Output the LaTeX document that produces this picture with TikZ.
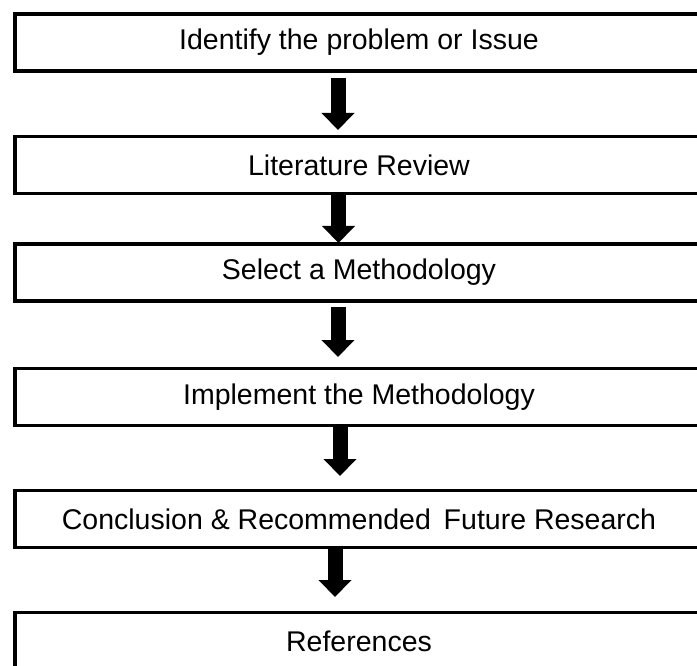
\documentclass[tikz,border=0pt]{standalone}
\usepackage{fontspec}
\setmainfont{Liberation Sans}
\usetikzlibrary{arrows.meta}
\begin{document}
\begin{tikzpicture}[x=1pt,y=-1pt,
  stepbox/.style={draw=black, line width=3.4pt, fill=white, rectangle,
    minimum width=688pt, minimum height=57pt, inner sep=0pt,
    font=\fontsize{28.5}{34}\selectfont},
  blockarrow/.style={draw=black, line width=15pt,
    -{Triangle[width=32pt,length=17pt]}}]
\clip (0,0) rectangle (697,666);
\node[stepbox] (b1) at (359,42.5) {Identify the problem or Issue};
\node[stepbox] (b2) at (359,165) {Literature Review};
\node[stepbox] (b3) at (359,272.5) {Select a Methodology};
\node[stepbox] (b4) at (359,397) {Implement the Methodology};
\node[stepbox] (b5) at (359,519) {Conclusion \& Recommended\hspace{0.45em}Future Research};
\node[stepbox] (b6) at (359,641) {References};
\coordinate (a1s) at (338,78);    \coordinate (a1e) at (338,130);
\coordinate (a2s) at (338.5,194); \coordinate (a2e) at (338.5,243);
\coordinate (a3s) at (338,307);   \coordinate (a3e) at (338,357);
\coordinate (a4s) at (340,425);   \coordinate (a4e) at (340,476);
\coordinate (a5s) at (335,548);   \coordinate (a5e) at (335,597);
\draw[blockarrow] (a1s) -- (a1e);
\draw[blockarrow] (a2s) -- (a2e);
\draw[blockarrow] (a3s) -- (a3e);
\draw[blockarrow] (a4s) -- (a4e);
\draw[blockarrow] (a5s) -- (a5e);
\end{tikzpicture}
\end{document}
